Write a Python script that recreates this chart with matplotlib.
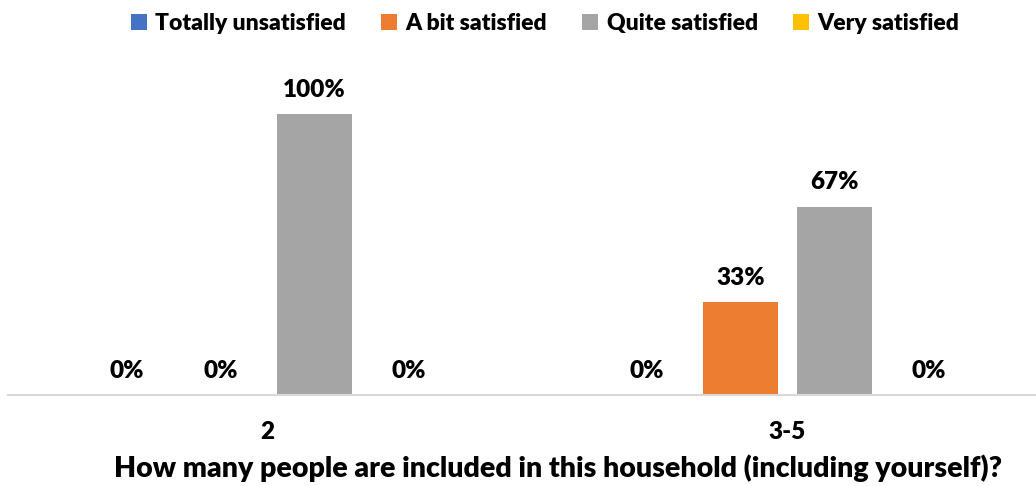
import matplotlib
matplotlib.use("Agg")
import matplotlib.pyplot as plt
import numpy as np

plt.rcParams['font.family'] = ['Lato', 'DejaVu Sans']
plt.rcParams['font.weight'] = 'bold'

categories = ["2", "3-5"]
series_names = ["Totally unsatisfied", "A bit satisfied", "Quite satisfied", "Very satisfied"]
values = {
    "Totally unsatisfied": [0.00, 0.00],
    "A bit satisfied": [0.00, 0.33],
    "Quite satisfied": [1.00, 0.67],
    "Very satisfied": [0.00, 0.00],
}
colors = ["#4472C4", "#ED7D31", "#A5A5A5", "#FFC000"]
x_title = "How many people are included in this household (including yourself)?"

W, H = 1036, 486
fig = plt.figure(figsize=(W / 100, H / 100), dpi=100)

# plot area in pixel terms
left_px, right_px = 8, 1036
base_px, top_px = 395, 60
ax = fig.add_axes([left_px / W, 1 - base_px / H, (right_px - left_px) / W, (base_px - top_px) / H])

pitch = 94 / 520          # bar spacing in category units
bar_w = 75 / 520          # bar width in category units
x = np.arange(len(categories))
n = len(series_names)
for i, (name, col) in enumerate(zip(series_names, colors)):
    pos = x + (i - (n - 1) / 2) * pitch
    vals = values[name]
    ax.bar(pos, vals, width=bar_w, color=col, label=name, zorder=2)
    for p, v in zip(pos, vals):
        ax.annotate(f"{round(v * 100):d}%", (p, v), xytext=(0, 12.5), textcoords="offset points",
                    ha="center", va="baseline", fontsize=17.5, fontweight="heavy", color="black")

ax.set_xlim((left_px - 267.5) / 520, (right_px - 267.5) / 520)
ax.set_ylim(0, (base_px - top_px) / 281)
ax.set_yticks([])
ax.set_xticks(x)
ax.set_xticklabels(categories, fontsize=17.5, fontweight="heavy")
ax.tick_params(axis="x", length=0, pad=19)
for s in ["top", "right", "left"]:
    ax.spines[s].set_visible(False)
ax.spines["bottom"].set_color("#D9D9D9")
ax.spines["bottom"].set_linewidth(1.5)
ax.spines["bottom"].set_zorder(3)

fig.text(558 / W, 1 - 477 / H, x_title, ha="center", va="baseline", fontsize=20.5, fontweight="heavy")

fig.legend(loc="upper center", bbox_to_anchor=(545 / W, 1.0), ncol=4, frameon=False,
           prop={"size": 16.5, "weight": "heavy"}, handlelength=0.7, handleheight=0.7,
           handletextpad=0.35, columnspacing=1.55, borderaxespad=0.15)

fig.savefig("out.png", dpi=100)
